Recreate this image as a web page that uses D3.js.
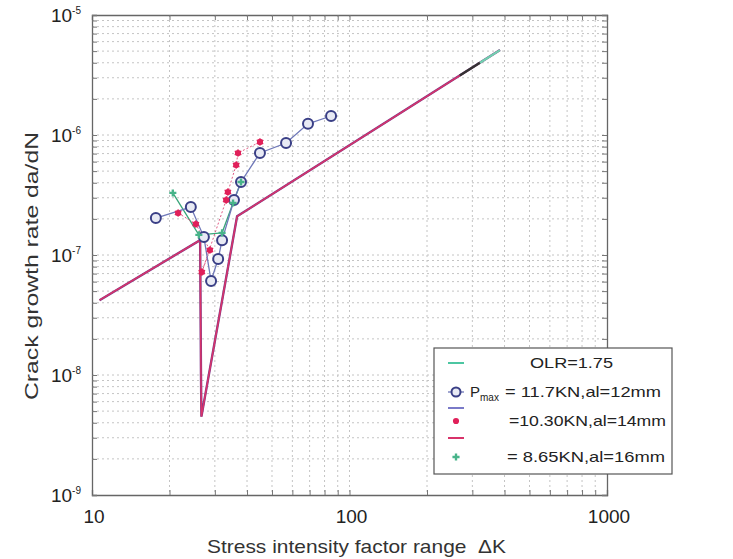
<!DOCTYPE html>
<html><head><meta charset="utf-8">
<script src="https://cdn.jsdelivr.net/npm/d3@7"></script>
<style>body{margin:0;background:#fff}svg{display:block}</style>
</head><body>
<script>
// ---- data ----
const blueK = [17.7, 24.2, 27.2, 29.0, 30.9, 32.0, 35.6, 37.9, 44.9, 56.7, 69.0, 84.8];
const blueR = [2.03e-7, 2.51e-7, 1.41e-7, 6.07e-8, 9.26e-8, 1.33e-7, 2.87e-7, 4.06e-7, 7.08e-7, 8.58e-7, 1.24e-6, 1.44e-6];
const redK = [21.6, 25.3, 28.7, 26.7, 33.2, 33.7, 36.3, 36.9, 44.9];
const redR = [2.24e-7, 1.81e-7, 1.10e-7, 7.21e-8, 2.87e-7, 3.35e-7, 5.62e-7, 7.08e-7, 8.75e-7];
const greenK = [20.6, 26.0, 32.0, 35.3, 37.9];
const greenR = [3.29e-7, 1.47e-7, 1.53e-7, 2.71e-7, 4.06e-7];
// prediction line (red), with overlapping purple / black / cyan portions
const predK = [10.7, 26.3, 26.5, 26.6, 36.6, 384];
const predR = [4.2e-8, 1.33e-7, 1.0e-8, 4.5e-9, 2.1e-7, 5.1e-6];
const blackK = [268, 321];
const blackR = [3.13e-6, 4.0e-6];
const cyanK = [321, 384];
const cyanR = [4.0e-6, 5.1e-6];
const xTicks = [10, 100, 1000];
const yTicks = [-9, -8, -7, -6, -5];
const legendLabels = ["OLR=1.75", "= 11.7KN,al=12mm", "", "=10.30KN,al=14mm", "", "= 8.65KN,al=16mm"];

const W = 733, H = 559;
const svg = d3.select("body").append("svg").attr("width", W).attr("height", H)
  .style("font-family", "Liberation Sans, Arial, sans-serif");
const x = d3.scaleLog().domain([10, 1000]).range([92, 607]);
const y = d3.scaleLog().domain([1e-9, 1e-5]).range([495, 15]);

// grid
const g = svg.append("g");
const xMinor = [], yMinor = [];
for (let d = 10; d < 1000; d *= 10) for (let m = 1; m <= 9; m++) xMinor.push(d * m);
for (let e = -9; e < -5; e++) for (let m = 1; m <= 9; m++) yMinor.push(m * Math.pow(10, e));
g.selectAll(".vx").data(xMinor.slice(1)).enter().append("line")
  .attr("x1", d => x(d)).attr("x2", d => x(d)).attr("y1", 15).attr("y2", 495)
  .attr("stroke", "#c4c4c4").attr("stroke-width", 1).attr("stroke-dasharray", "2,3");
g.selectAll(".hy").data(yMinor.slice(1)).enter().append("line")
  .attr("y1", d => y(d)).attr("y2", d => y(d)).attr("x1", 92).attr("x2", 607)
  .attr("stroke", "#c4c4c4").attr("stroke-width", 1).attr("stroke-dasharray", "2,3");

// axes
const axB = d3.axisBottom(x).tickValues(xMinor.concat([1000])).tickSize(-5).tickFormat("");
const axT = d3.axisTop(x).tickValues(xMinor.concat([1000])).tickSize(-5).tickFormat("");
const axL = d3.axisLeft(y).tickValues(yMinor.concat([1e-5])).tickSize(-5).tickFormat("");
const axR = d3.axisRight(y).tickValues(yMinor.concat([1e-5])).tickSize(-5).tickFormat("");
[[axB, "translate(0,495)"], [axT, "translate(0,15)"], [axL, "translate(92,0)"], [axR, "translate(607,0)"]].forEach(([a, t]) => {
  const gg = svg.append("g").attr("transform", t).call(a);
  gg.select(".domain").attr("stroke", "#666").attr("stroke-width", 1.3);
  gg.selectAll(".tick line").attr("stroke", "#777");
});

// tick labels
svg.selectAll(".xl").data(xTicks).enter().append("text")
  .attr("x", d => x(d) + 2).attr("y", 523).attr("text-anchor", "middle")
  .attr("font-size", 19).attr("fill", "#222").text(d => d);
const yl = svg.selectAll(".yl").data(yTicks).enter().append("text")
  .attr("x", 81).attr("y", d => y(Math.pow(10, d)) + 7).attr("text-anchor", "end")
  .attr("font-size", 19).attr("fill", "#222");
yl.append("tspan").text("10");
yl.append("tspan").attr("dy", -8).attr("font-size", 10).text(d => "-" + (-d));

// axis titles
svg.append("text").attr("x", 207).attr("y", 553)
  .attr("font-size", 19).attr("fill", "#333").attr("xml:space", "preserve").style("white-space", "pre")
  .attr("textLength", 299).attr("lengthAdjust", "spacingAndGlyphs")
  .text("Stress intensity factor range  \u0394K");
svg.append("text").attr("transform", "translate(38,400) rotate(-90)")
  .attr("font-size", 19).attr("fill", "#333")
  .attr("textLength", 268).attr("lengthAdjust", "spacingAndGlyphs")
  .text("Crack growth rate da/dN");

const line = d3.line().x(d => x(d[0])).y(d => y(d[1]));
const zip = (a, b) => a.map((v, i) => [v, b[i]]);

// prediction lines
svg.append("path").datum(zip(predK, predR)).attr("d", line).attr("fill", "none")
  .attr("stroke", "#7a3a8a").attr("stroke-width", 2.4);
svg.append("path").datum(zip(predK, predR)).attr("d", line).attr("fill", "none")
  .attr("stroke", "#d8336a").attr("stroke-width", 1.5);
svg.append("path").datum(zip(blackK, blackR)).attr("d", line).attr("fill", "none")
  .attr("stroke", "#333").attr("stroke-width", 2.2);
svg.append("path").datum(zip(cyanK, cyanR)).attr("d", line).attr("fill", "none")
  .attr("stroke", "#6fd0b0").attr("stroke-width", 2.2);

// series lines
svg.append("path").datum(zip(greenK, greenR)).attr("d", line).attr("fill", "none")
  .attr("stroke", "#3aa57a").attr("stroke-width", 1.3);
svg.append("path").datum(zip(redK, redR)).attr("d", line).attr("fill", "none")
  .attr("stroke", "#e05a84").attr("stroke-width", 1).attr("stroke-dasharray", "2,2");
svg.append("path").datum(zip(blueK, blueR)).attr("d", line).attr("fill", "none")
  .attr("stroke", "#6f78b8").attr("stroke-width", 1.3);

// markers
svg.selectAll(".bc").data(zip(blueK, blueR)).enter().append("circle")
  .attr("cx", d => x(d[0])).attr("cy", d => y(d[1])).attr("r", 5)
  .attr("fill", "#e8eaf4").attr("stroke", "#3a3f86").attr("stroke-width", 2);
const dot = d3.symbol().type(d3.symbolCircle).size(30);
const ast = d3.symbol().type(d3.symbolAsterisk).size(40);
const rs = svg.selectAll(".rs").data(zip(redK, redR)).enter().append("g")
  .attr("transform", d => `translate(${x(d[0])},${y(d[1])})`);
rs.append("path").attr("d", dot).attr("fill", "#e0205a");
rs.append("path").attr("d", ast).attr("fill", "none").attr("stroke", "#e0205a").attr("stroke-width", 1.2);
const plus = d3.symbol().type(d3.symbolCross).size(28);
svg.selectAll(".gp").data(zip(greenK, greenR)).enter().append("path")
  .attr("transform", d => `translate(${x(d[0])},${y(d[1])})`).attr("d", plus)
  .attr("fill", "#48b48a");

// legend
const lg = svg.append("g");
lg.append("rect").attr("x", 434).attr("y", 348).attr("width", 238).attr("height", 126)
  .attr("fill", "#fff").attr("stroke", "#555").attr("stroke-width", 1.2);
const ly = [363, 392, 408, 421, 438, 457];
lg.append("line").attr("x1", 448).attr("x2", 464).attr("y1", ly[0]).attr("y2", ly[0]).attr("stroke", "#4cc6a2").attr("stroke-width", 2);
lg.append("line").attr("x1", 448).attr("x2", 464).attr("y1", ly[1]).attr("y2", ly[1]).attr("stroke", "#6f78b8").attr("stroke-width", 1.3);
lg.append("circle").attr("cx", 456).attr("cy", ly[1]).attr("r", 4.5).attr("fill", "#e8eaf4").attr("stroke", "#3a3f86").attr("stroke-width", 2);
lg.append("line").attr("x1", 448).attr("x2", 464).attr("y1", ly[2]).attr("y2", ly[2]).attr("stroke", "#7a7ac8").attr("stroke-width", 2);
lg.append("path").attr("transform", `translate(456,${ly[3]})`).attr("d", dot).attr("fill", "#e0205a");
lg.append("line").attr("x1", 448).attr("x2", 464).attr("y1", ly[4]).attr("y2", ly[4]).attr("stroke", "#d8336a").attr("stroke-width", 2);
lg.append("path").attr("transform", `translate(456,${ly[5]})`).attr("d", plus).attr("fill", "#48b48a");
lg.append("text").attr("x", 530).attr("y", ly[0] + 5).attr("font-size", 15).attr("fill", "#222")
  .attr("textLength", 83).attr("lengthAdjust", "spacingAndGlyphs").text(legendLabels[0]);
const t1 = lg.append("text").attr("x", 470).attr("y", ly[1] + 5).attr("font-size", 15).attr("fill", "#222");
t1.append("tspan").text("P");
t1.append("tspan").attr("dy", 4).attr("font-size", 10).text("max");
lg.append("text").attr("x", 505).attr("y", ly[1] + 5).attr("font-size", 15).attr("fill", "#222")
  .attr("xml:space", "preserve").style("white-space", "pre")
  .attr("textLength", 156).attr("lengthAdjust", "spacingAndGlyphs").text(legendLabels[1]);
lg.append("text").attr("x", 509).attr("y", ly[3] + 5).attr("font-size", 15).attr("fill", "#222")
  .attr("textLength", 157).attr("lengthAdjust", "spacingAndGlyphs").text(legendLabels[3]);
lg.append("text").attr("x", 507).attr("y", ly[5] + 5).attr("font-size", 15).attr("fill", "#222")
  .attr("xml:space", "preserve").style("white-space", "pre")
  .attr("textLength", 158).attr("lengthAdjust", "spacingAndGlyphs").text(legendLabels[5]);
</script>
</body></html>
